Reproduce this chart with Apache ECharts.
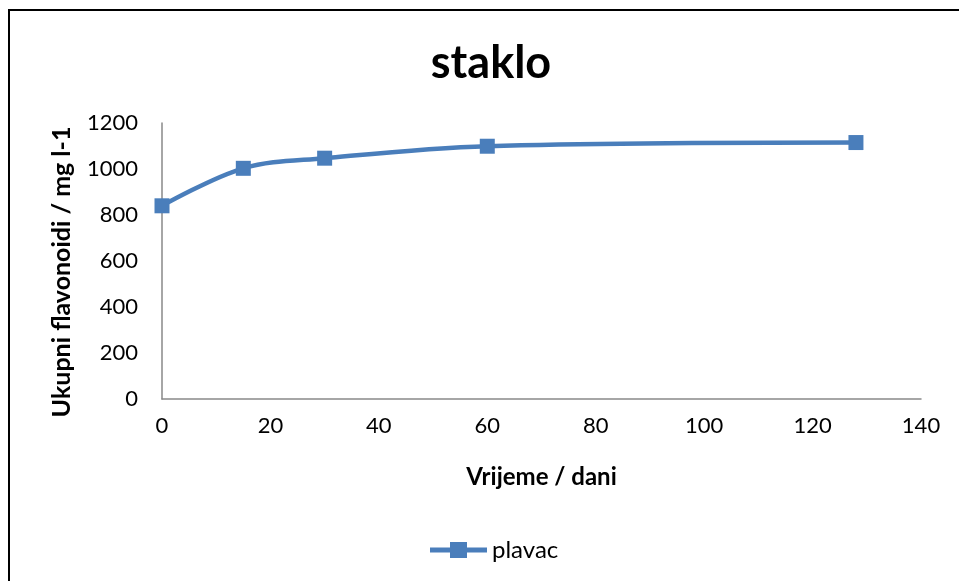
<!DOCTYPE html>
<html><head><meta charset="utf-8">
<script src="https://cdn.jsdelivr.net/npm/echarts@6/dist/echarts.min.js"></script>
<style>html,body{margin:0;padding:0;background:#fff}#c{width:959px;height:581px}</style>
</head><body><div id="c"></div>
<script>
const days = [0, 15, 30, 60, 128];
const plavac = [840, 1003, 1047, 1099, 1115];
const seriesName = 'plavac';
const chartTitle = 'staklo';
const xName = 'Vrijeme / dani';
const yName = 'Ukupni flavonoidi / mg l-1';

const font = 'Lato, "Open Sans", sans-serif';
const chart = echarts.init(document.getElementById('c'));
chart.setOption({
  animation: false,
  backgroundColor: '#fff',
  graphic: [{type:'rect', shape:{x:9, y:10, width:960, height:580}, style:{fill:'none', stroke:'#000', lineWidth:2}, silent:true}],
  title: {text: chartTitle, left: 486, top: 36, textAlign:'center', textStyle:{fontFamily:font, fontSize:45, fontWeight:'bold', color:'#000'}},
  grid: {left: 162, right: 38, top: 123, bottom: 182},
  xAxis: {type:'value', min:0, max:140, interval:20,
    name: xName, nameLocation:'middle', nameGap:66,
    nameTextStyle:{fontFamily:font, fontSize:24, fontWeight:'bold', color:'#000'},
    axisLine:{lineStyle:{color:'#898989', width:1.5}}, axisTick:{show:false}, splitLine:{show:false},
    axisLabel:{fontFamily:font, fontSize:22, color:'#000', margin:16}},
  yAxis: {type:'value', min:0, max:1200, interval:200,
    name: yName, nameLocation:'middle', nameGap:88,
    nameTextStyle:{fontFamily:font, fontSize:25, fontWeight:'bold', color:'#000', padding:[0, 22, 0, 0]},
    axisLine:{show:true, lineStyle:{color:'#898989', width:1.5}}, axisTick:{show:false}, splitLine:{show:false},
    axisLabel:{fontFamily:font, fontSize:22, color:'#000', margin:24, formatter: v => String(v)}},
  legend: {bottom: 19, left: 430, itemWidth:57, itemHeight:16, icon:'path://M0,5.5 L20,5.5 L20,0 L37,0 L37,5.5 L57,5.5 L57,10.5 L37,10.5 L37,16 L20,16 L20,10.5 L0,10.5 Z',
    textStyle:{fontFamily:font, fontSize:24, color:'#000'}, itemGap:4, padding:0,
    data:[{name: seriesName, itemStyle:{color:'#4a7ebb'}}]},
  series: [{name: seriesName, type:'line', smooth:0.35, data: days.map((d,i)=>[d, plavac[i]]),
    symbol:'rect', symbolSize:15, lineStyle:{color:'#4a7ebb', width:4.5}, itemStyle:{color:'#4a7ebb'}}]
});
</script></body></html>
